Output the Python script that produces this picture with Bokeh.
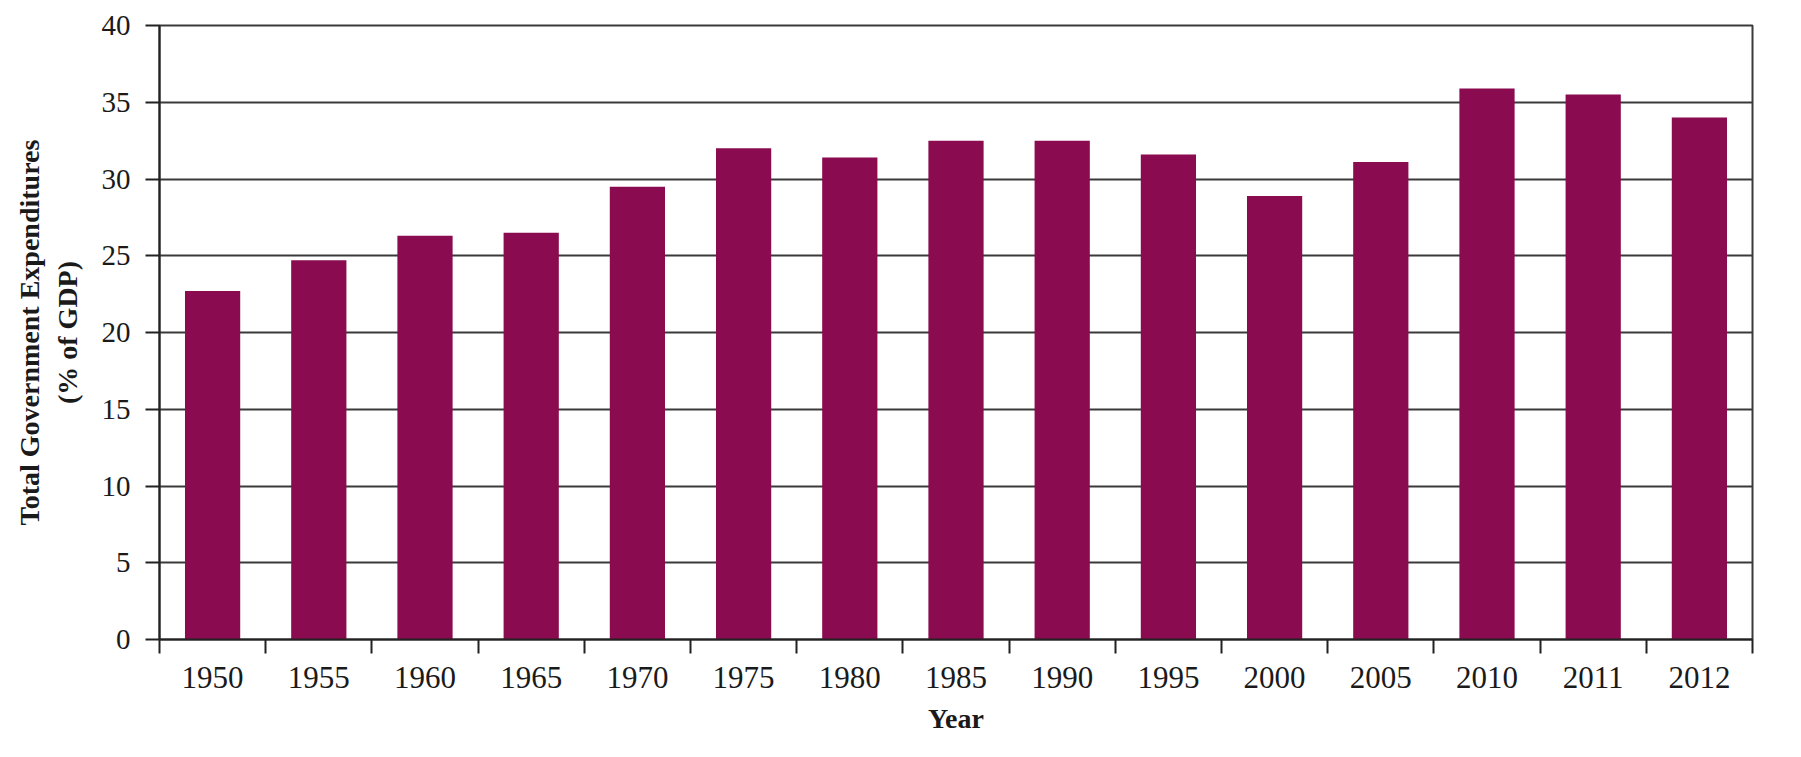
from bokeh.plotting import figure
from bokeh.models import ColumnDataSource, FixedTicker, Range1d
from bokeh.embed import file_html
from bokeh.resources import INLINE

years = ["1950", "1955", "1960", "1965", "1970", "1975", "1980", "1985",
         "1990", "1995", "2000", "2005", "2010", "2011", "2012"]
values = [22.7, 24.7, 26.3, 26.5, 29.5, 32.0, 31.4, 32.5,
          32.5, 31.6, 28.9, 31.1, 35.9, 35.5, 34.0]
y_ticks = [0, 5, 10, 15, 20, 25, 30, 35, 40]

idx = list(range(len(years)))
src = ColumnDataSource(dict(x=idx, top=values, year=years))

FONT = "Liberation Serif"
BAR = "#8A0B4F"
GRID = "#3a3a3a"

p = figure(frame_width=1593, frame_height=614,
           min_border_left=159, min_border_top=25,
           min_border_right=33, min_border_bottom=102,
           x_range=Range1d(-0.5, len(years) - 0.5), y_range=Range1d(0, 40),
           output_backend="svg", toolbar_location=None, tools="")

p.vbar(x="x", top="top", bottom=0, width=0.52, source=src,
       fill_color=BAR, line_color=None)

p.outline_line_color = GRID
p.outline_line_width = 2
p.background_fill_color = "white"
p.border_fill_color = "white"

# X axis: labels at category centres, ticks at category boundaries
xa = p.xaxis[0]
xa.ticker = FixedTicker(ticks=idx, minor_ticks=[i - 0.5 for i in range(len(years) + 1)])
xa.major_label_overrides = {i: y for i, y in zip(idx, years)}
xa.major_tick_out = 0
xa.major_tick_in = 0
xa.minor_tick_out = 14
xa.minor_tick_in = 0
xa.minor_tick_line_width = 2
xa.minor_tick_line_color = "#222222"
xa.axis_line_width = 2
xa.axis_line_color = "#222222"
xa.major_label_text_font = FONT
xa.major_label_text_font_size = "31px"
xa.major_label_text_color = "#1a1a1a"
xa.major_label_standoff = 13
xa.axis_label = "Year"
xa.axis_label_text_font = FONT
xa.axis_label_text_font_style = "bold"
xa.axis_label_text_font_size = "28px"
xa.axis_label_text_color = "#1a1a1a"
xa.axis_label_standoff = 12

ya = p.yaxis[0]
ya.ticker = FixedTicker(ticks=y_ticks, minor_ticks=[])
ya.major_tick_out = 14
ya.major_tick_in = 0
ya.major_tick_line_width = 2
ya.major_tick_line_color = "#222222"
ya.minor_tick_line_color = None
ya.axis_line_width = 2
ya.axis_line_color = "#222222"
ya.major_label_text_font = FONT
ya.major_label_text_font_size = "29px"
ya.major_label_text_color = "#1a1a1a"
ya.major_label_standoff = 15
ya.axis_label = "Total Government Expenditures\n(% of GDP)"
ya.axis_label_text_font = FONT
ya.axis_label_text_font_style = "bold"
ya.axis_label_text_font_size = "28px"
ya.axis_label_text_color = "#1a1a1a"
ya.axis_label_standoff = 16

p.xgrid.visible = False
p.ygrid.ticker = FixedTicker(ticks=y_ticks)
p.ygrid.grid_line_color = GRID
p.ygrid.grid_line_width = 2

open("out.html", "w").write(file_html(p, INLINE))
